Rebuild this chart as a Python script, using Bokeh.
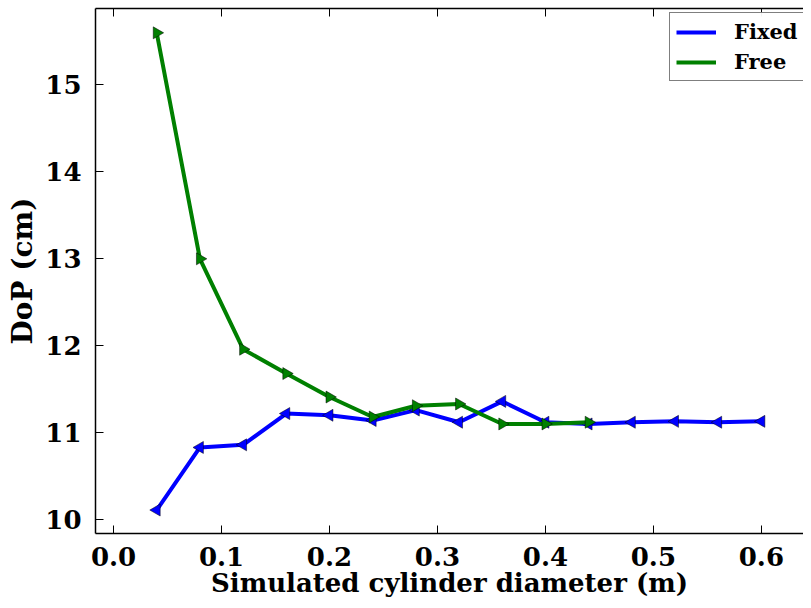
from bokeh.plotting import figure
from bokeh.models import (Range1d, LinearAxis, Legend, LegendItem, FixedTicker,
                          PrintfTickFormatter, CustomJSTickFormatter)
from bokeh.embed import file_html
from bokeh.resources import INLINE
import math

diam_fixed = [0.04, 0.08, 0.12, 0.16, 0.20, 0.24, 0.28, 0.32, 0.36, 0.40, 0.44, 0.48, 0.52, 0.56, 0.60]
dop_fixed = [10.11, 10.83, 10.86, 11.22, 11.20, 11.14, 11.26, 11.12, 11.36, 11.12, 11.10, 11.12, 11.13, 11.12, 11.13]
diam_free = [0.04, 0.08, 0.12, 0.16, 0.20, 0.24, 0.28, 0.32, 0.36, 0.40, 0.44]
dop_free = [15.60, 13.00, 11.96, 11.68, 11.41, 11.18, 11.31, 11.33, 11.10, 11.10, 11.12]
x_ticks = [0.0, 0.1, 0.2, 0.3, 0.4, 0.5, 0.6]
y_ticks = [10, 11, 12, 13, 14, 15]

FONT = "DejaVu Serif"

p = figure(width=803, height=600, output_backend="svg", toolbar_location=None,
           x_range=Range1d(-0.0167, 0.639), y_range=Range1d(9.84, 15.88),
           min_border_left=95, min_border_right=0, min_border_top=8, min_border_bottom=65)
p.xgrid.visible = False
p.ygrid.visible = False
p.outline_line_color = None
p.background_fill_color = "white"

for ax in (p.xaxis[0], p.yaxis[0]):
    ax.major_tick_in = 8
    ax.major_tick_out = 0
    ax.minor_tick_line_color = None
    ax.axis_line_color = "black"
    ax.axis_line_width = 1.5
    ax.major_label_text_font = FONT
    ax.major_label_text_font_style = "bold"
    ax.major_label_text_font_size = "26px"
    ax.major_label_text_color = "black"
    ax.axis_label_text_font = FONT
    ax.axis_label_text_font_style = "bold"
    ax.axis_label_text_color = "black"

p.xaxis.axis_label_text_font_size = "26px"
p.yaxis.axis_label_text_font_size = "28px"
p.xaxis.ticker = FixedTicker(ticks=x_ticks)
p.xaxis.formatter = PrintfTickFormatter(format="%.1f")
p.yaxis.ticker = FixedTicker(ticks=y_ticks)
p.xaxis.axis_label = "Simulated cylinder diameter (m)"
p.yaxis.axis_label = "DoP (cm)"
p.xaxis.major_label_standoff = 13
p.yaxis.major_label_standoff = 14
p.xaxis.axis_label_standoff = -1
p.yaxis.axis_label_standoff = 3

top = LinearAxis(ticker=FixedTicker(ticks=x_ticks), major_tick_in=8, major_tick_out=0,
                 minor_tick_line_color=None, formatter=CustomJSTickFormatter(code="return ''"),
                 major_label_standoff=0, axis_line_color="black", axis_line_width=1.5)
p.add_layout(top, "above")

blue = "#0000ff"
green = "#008000"

lf = p.line(diam_fixed, dop_fixed, line_color=blue, line_width=4)
sf = p.scatter(diam_fixed, dop_fixed, marker="triangle", size=12, angle=math.pi / 2,
               fill_color=blue, line_color="black", line_width=0.5)
lr = p.line(diam_free, dop_free, line_color=green, line_width=4)
sr = p.scatter(diam_free, dop_free, marker="triangle", size=12, angle=-math.pi / 2,
               fill_color=green, line_color="black", line_width=0.5)

legend = Legend(items=[LegendItem(label="Fixed", renderers=[lf]),
                       LegendItem(label="Free", renderers=[lr])],
                location=(574, 452))
legend.label_text_font = FONT
legend.label_text_font_style = "bold"
legend.label_text_font_size = "21px"
legend.label_text_color = "black"
legend.border_line_color = "black"
legend.border_line_width = 1.2
legend.glyph_width = 40
legend.spacing = 5
legend.padding = 6
legend.margin = 0
legend.label_standoff = 18
p.add_layout(legend, "center")

open("out.html", "w").write(file_html(p, INLINE))
